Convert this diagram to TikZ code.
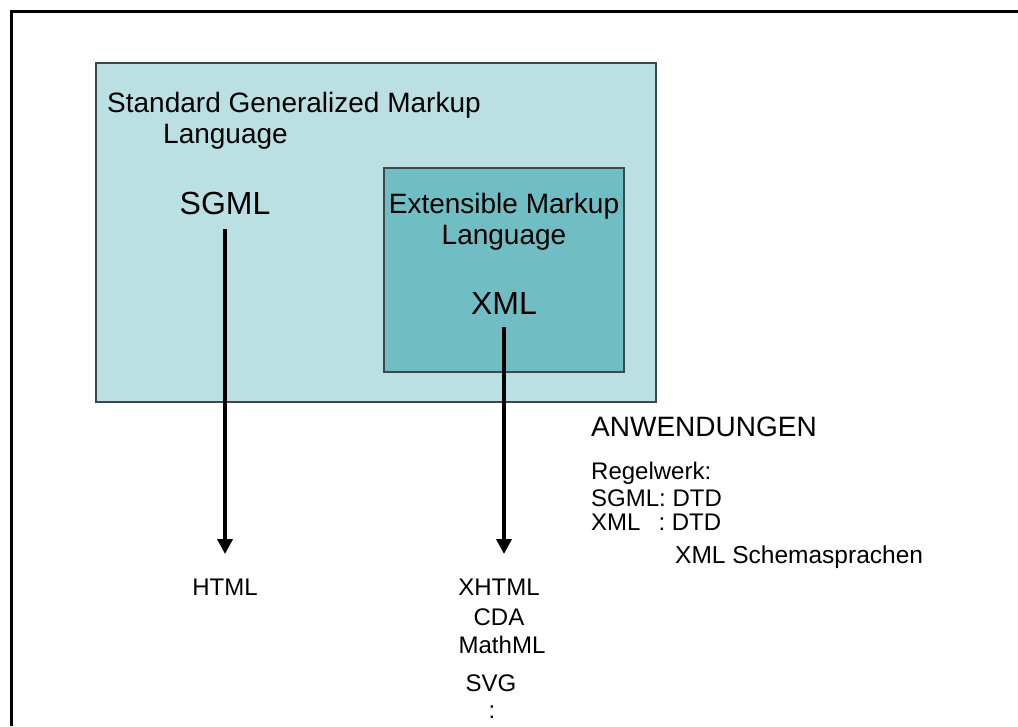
\documentclass[tikz,border=0pt]{standalone}
\usepackage{fontspec}
\setmainfont{Liberation Sans}
\usetikzlibrary{arrows.meta}
\definecolor{outerfill}{HTML}{BBE0E3}
\definecolor{innerfill}{HTML}{70BDC4}
\definecolor{boxline}{HTML}{3A4A4C}
\tikzset{
  box/.style={draw=boxline, line width=1.2pt},
  big/.style={inner sep=0pt, font=\fontsize{32}{36}\selectfont},
  mid/.style={inner sep=0pt, font=\fontsize{28}{32}\selectfont},
  small/.style={inner sep=0pt, font=\fontsize{24}{28}\selectfont},
  conn/.style={line width=3.6pt, -{Triangle[length=15pt, width=15pt]}},
}
\begin{document}
\begin{tikzpicture}[x=1pt, y=-1pt]
\useasboundingbox (0,0) rectangle (1018,726);
% frame (top and left sides)
\draw[line width=3pt] (11.5,726) -- (11.5,11.5) -- (1018,11.5);
% boxes
\filldraw[box, fill=outerfill] (96,63) rectangle (656,402);
\filldraw[box, fill=innerfill] (384,168) rectangle (624,372);
% texts in outer box
\node[mid, anchor=west] (sgmlname1) at (107,105) {Standard Generalized Markup};
\node[mid, anchor=west] (sgmlname2) at (163,137) {Language};
\node[big] (sgml) at (225,203) {SGML};
% texts in inner box
\node[mid] (xmlname1) at (504,206) {Extensible Markup};
\node[mid] (xmlname2) at (504,238) {Language};
\node[big] (xml) at (504,303) {XML};
% targets
\node[small] (html) at (225,587) {HTML};
\node[small] (xhtml) at (499,587) {XHTML};
\node[small] (cda) at (499,617) {CDA};
\node[small] (mathml) at (502,645) {MathML};
\node[small] (svg) at (491,683) {SVG};
\node[small] (dots) at (492,712) {:};
% connector end points
\coordinate (s1) at (225,229);
\coordinate (e1) at (225,554);
\coordinate (s2) at (504,327);
\coordinate (e2) at (504,554);
\draw[conn] (s1) -- (e1);
\draw[conn] (s2) -- (e2);
% right texts
\node[mid, anchor=west] (anw) at (591,427) {ANWENDUNGEN};
\node[small, anchor=west] (rw) at (591,473) {Regelwerk:};
\node[small, anchor=west] (rw1) at (591,498) {SGML: DTD};
\node[small, anchor=west] (rw2) at (591,522) {XML\hspace{0.75em}: DTD};
\node[small, anchor=west, font=\fontsize{24.5}{28}\selectfont] (rw3) at (675,557) {XML Schemasprachen};
\end{tikzpicture}
\end{document}
